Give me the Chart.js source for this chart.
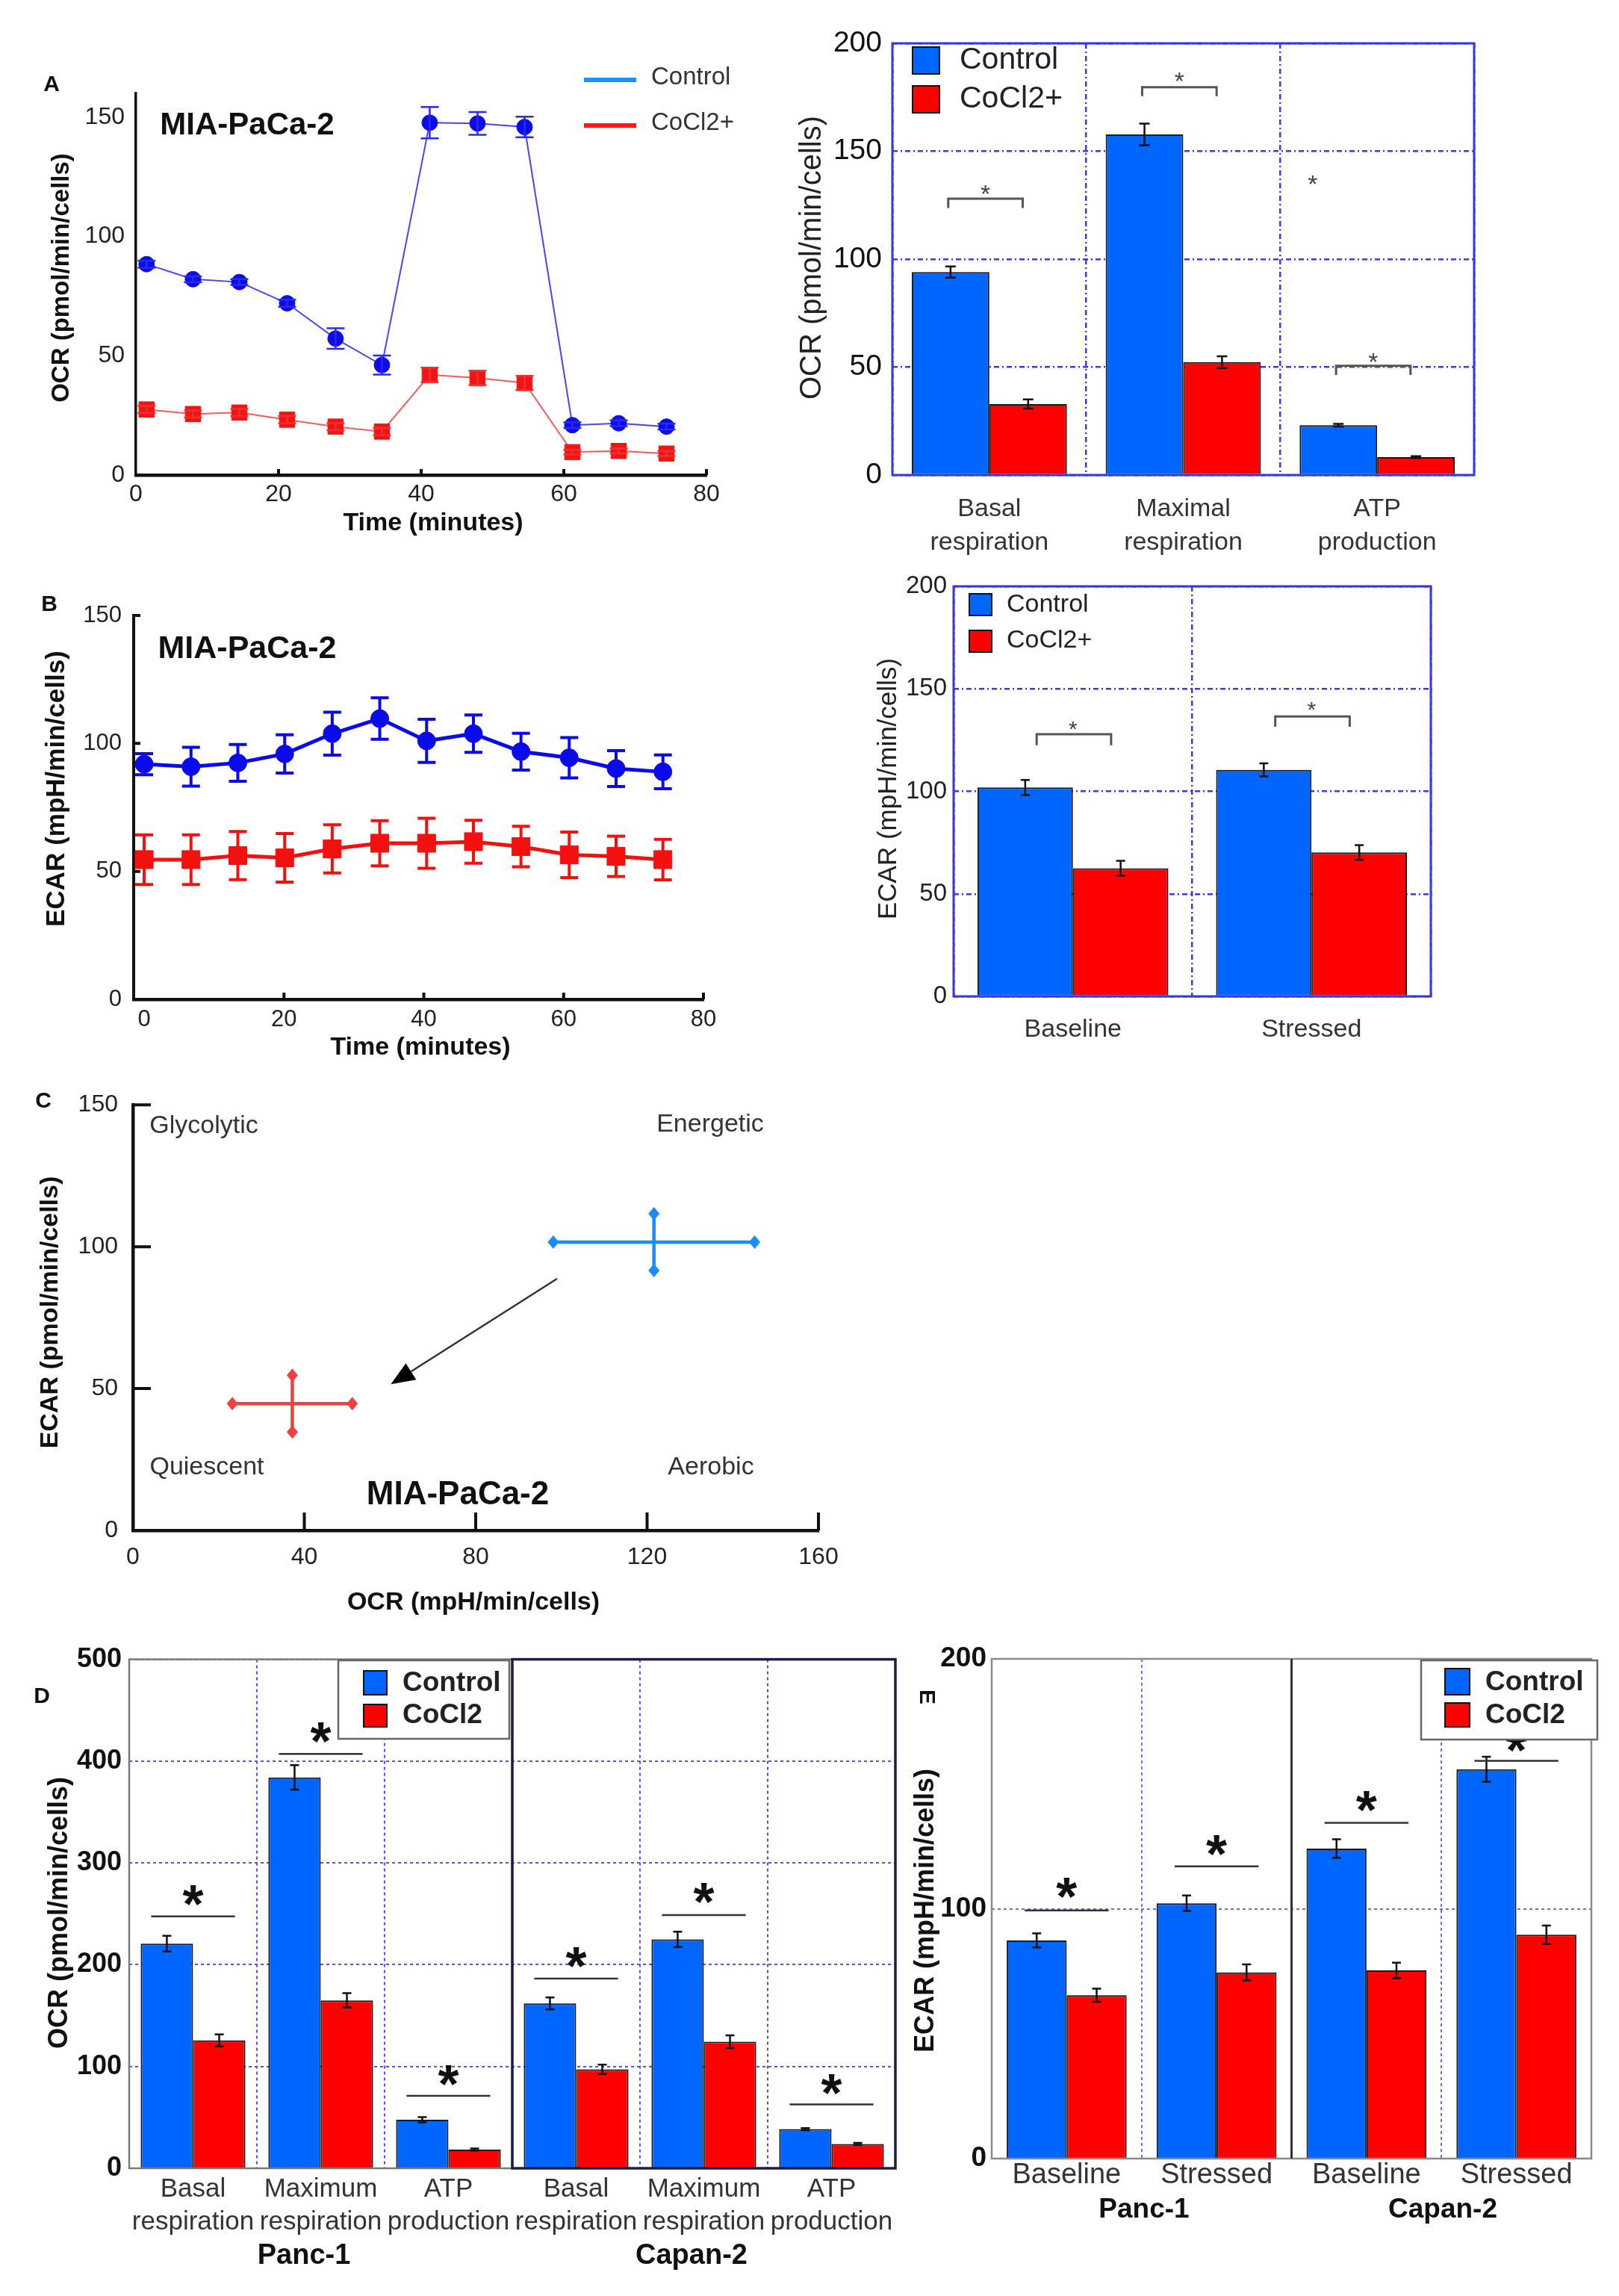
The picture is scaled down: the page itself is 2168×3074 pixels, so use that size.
<!DOCTYPE html>
<html>
<head>
<meta charset="utf-8">
<title>OCR / ECAR - MIA-PaCa-2, Panc-1, Capan-2</title>
<script src="https://cdn.jsdelivr.net/npm/chart.js@4.4.1/dist/chart.umd.min.js"></script>
<style>
  html, body { margin: 0; padding: 0; background: #fff; }
  body { position: relative; width: 2168px; height: 3074px; overflow: hidden; }
  canvas { position: absolute; }
</style>
</head>
<body>
<script>
// ---------- A (left): OCR time course, MIA-PaCa-2
const timeA = [1.5, 8, 14.5, 21.2, 28, 34.5, 41.2, 47.9, 54.5, 61.2, 67.7, 74.4];
const ocrControlA = [88.4, 82.1, 80.9, 72.0, 57.2, 46.1, 147.7, 147.4, 145.9, 20.9, 21.7, 20.3];
const ocrControlErrA = [1.5, 1.2, 1.2, 1.5, 4.3, 4.0, 6.6, 4.8, 4.3, 1.2, 1.2, 1.2];
const ocrCoclA = [27.5, 25.6, 26.2, 23.2, 20.3, 18.2, 42.0, 40.7, 38.6, 9.6, 10.1, 9.0];
const ocrCoclErrA = [1.5, 1.5, 1.5, 1.5, 1.5, 1.5, 3.0, 3.0, 3.0, 1.0, 1.0, 1.0];
const timeTicks = [0, 20, 40, 60, 80];
const ocrTicksA = [0, 50, 100, 150];

// ---------- A (right): OCR parameters
const ocrParams = [['Basal', 'respiration'], ['Maximal', 'respiration'], ['ATP', 'production']];
const ocrParamControl = [94.0, 157.8, 23.1];
const ocrParamControlErr = [2.6, 5.0, 0.6];
const ocrParamCocl = [32.9, 52.3, 8.3];
const ocrParamCoclErr = [2.1, 2.7, 0.4];
const ocrParamSig = [128.0, 179.7, 50.6];      // bracket bar
const ocrParamSigFoot = [123.7, 175.5, 46.4];  // bracket ends
const ocrParamStar = [132.8, 185.0, 55.2];
const ocrParamTicks = [0, 50, 100, 150, 200];

// ---------- B (left): ECAR time course
const timeB = [0, 6.7, 13.4, 20.1, 26.9, 33.7, 40.4, 47.1, 53.9, 60.8, 67.5, 74.2];
const ecarControlB = [91.9, 90.9, 92.4, 95.9, 103.8, 109.7, 101.0, 103.8, 96.8, 94.4, 90.2, 88.9];
const ecarControlErrB = [4.1, 7.6, 7.2, 7.5, 8.4, 8.1, 8.4, 7.3, 7.2, 7.9, 7.0, 6.6];
const ecarCoclB = [54.6, 54.6, 56.2, 55.3, 58.8, 61.0, 61.0, 61.6, 59.7, 56.5, 55.9, 54.6];
const ecarCoclErrB = [9.7, 9.7, 9.4, 9.5, 9.4, 8.8, 9.8, 8.4, 7.9, 8.9, 7.9, 7.9];
const ecarTicksB = [0, 50, 100, 150];

// ---------- B (right): ECAR baseline / stressed
const ecarStates = ['Baseline', 'Stressed'];
const ecarStateControl = [101.9, 110.5];
const ecarStateControlErr = [3.7, 3.2];
const ecarStateCocl = [62.5, 70.2];
const ecarStateCoclErr = [3.6, 3.6];
const ecarStateSig = [127.9, 136.5];
const ecarStateSigFoot = [122.5, 131.5];
const ecarStateStar = [132.9, 142.4];
const ecarStateTicks = [0, 50, 100, 150, 200];

// ---------- C: energy phenotype
const phenoGroups = ['Control', 'CoCl2+'];
const phenoOcr = [121.6, 37.2];
const phenoOcrErr = [23.5, 14.0];
const phenoEcar = [101.6, 44.7];
const phenoEcarErr = [10.0, 10.0];
const phenoShift = [[99, 88.7], [60.2, 51.5]];
const phenoXTicks = [0, 40, 80, 120, 160];
const phenoYTicks = [0, 50, 100, 150];

// ---------- D: OCR, Panc-1 and Capan-2
const cellLines = ['Panc-1', 'Capan-2'];
const ocrParamsD = [['Basal', 'respiration'], ['Maximum', 'respiration'], ['ATP', 'production'],
                    ['Basal', 'respiration'], ['Maximum', 'respiration'], ['ATP', 'production']];
const ocrControlD = [220.7, 384.0, 47.7, 162.0, 224.9, 38.5];
const ocrControlErrD = [7.7, 12.0, 2.5, 5.9, 7.5, 1.0];
const ocrCoclD = [125.6, 165.0, 18.4, 97.2, 124.4, 23.9];
const ocrCoclErrD = [5.9, 7.0, 1.0, 4.6, 6.3, 1.0];
const ocrSigD = [247.5, 407.0, 71.2, 186.3, 248.7, 62.8];
const ocrStarD = [271, 431, 93.8, 210, 273, 85.4];
const ocrTicksD = [0, 100, 200, 300, 400, 500];

// ---------- E: ECAR, Panc-1 and Capan-2
const ecarStatesE = ['Baseline', 'Stressed', 'Baseline', 'Stressed'];
const ecarControlE = [87.3, 102.2, 124.1, 155.8];
const ecarControlErrE = [2.8, 3.1, 3.7, 5.0];
const ecarCoclE = [65.4, 74.5, 75.3, 89.6];
const ecarCoclErrE = [2.6, 3.2, 3.1, 3.7];
const ecarSigE = [99.3, 117.0, 134.4, 159.2];
const ecarStarE = [109.6, 126.7, 144.2, 168.0];
const ecarTicksE = [0, 100, 200];

const FONT = "'Liberation Sans', Arial, Helvetica, sans-serif";
Chart.defaults.font.family = FONT;
Chart.defaults.color = '#222';

const BLUE = '#0066ff';
const RED = '#ff0000';

const fixedTicks = values => scale => { scale.ticks = values.map(v => ({ value: v })); };
const points = (xs, ys) => xs.map((x, i) => ({ x: x, y: ys[i] }));

// text at page coordinates (box = canvas origin on the page)
function label(ctx, box, s, x, y, size, o) {
  o = o || {};
  ctx.save();
  ctx.font = (o.bold ? 'bold ' : '') + size + 'px ' + FONT;
  ctx.fillStyle = o.color || '#222';
  ctx.textAlign = o.align || 'center';
  ctx.textBaseline = 'middle';
  ctx.translate(x - box[0], y - box[1]);
  if (o.rot) ctx.rotate(o.rot);
  ctx.fillText(s, 0, 0);
  ctx.restore();
}

function starAt(ctx, x, y, size, bold, color) {
  ctx.save();
  ctx.font = (bold ? 'bold ' : '') + size + 'px ' + FONT;
  ctx.fillStyle = color;
  ctx.textAlign = 'center';
  ctx.textBaseline = 'alphabetic';
  ctx.fillText('*', x, y + size * 0.56);
  ctx.restore();
}

// vertical error bars for every dataset carrying an "errors" array
const errorBars = {
  id: 'errorBars',
  afterDatasetsDraw(chart) {
    const ctx = chart.ctx, ys = chart.scales.y;
    chart.data.datasets.forEach((ds, i) => {
      if (!ds.errors) return;
      ctx.save();
      ctx.strokeStyle = ds.errColor || '#111';
      ctx.lineWidth = ds.errWidth || 2;
      chart.getDatasetMeta(i).data.forEach((el, j) => {
        const raw = ds.data[j];
        const v = typeof raw === 'object' ? raw.y : raw;
        const top = ys.getPixelForValue(v + ds.errors[j]);
        const bot = ys.getPixelForValue(v - ds.errors[j]);
        const c = ds.errCap || 6;
        ctx.beginPath();
        ctx.moveTo(el.x, top); ctx.lineTo(el.x, bot);
        ctx.moveTo(el.x - c, top); ctx.lineTo(el.x + c, top);
        ctx.moveTo(el.x - c, bot); ctx.lineTo(el.x + c, bot);
        ctx.stroke();
      });
      ctx.restore();
    });
  }
};

function innerTicks(chart, ctx, xs, ys, len, width) {
  const a = chart.chartArea;
  ctx.save();
  ctx.strokeStyle = '#111';
  ctx.lineWidth = width;
  ctx.beginPath();
  xs.forEach(v => { const p = chart.scales.x.getPixelForValue(v); ctx.moveTo(p, a.bottom); ctx.lineTo(p, a.bottom - len); });
  ys.forEach(v => { const p = chart.scales.y.getPixelForValue(v); ctx.moveTo(a.left, p); ctx.lineTo(a.left + len, p); });
  ctx.stroke();
  ctx.restore();
}

function sigMarks(chart, ctx, lineY, footY, starY, o) {
  const ys = chart.scales.y;
  const m0 = chart.getDatasetMeta(0).data, m1 = chart.getDatasetMeta(1).data;
  ctx.save();
  ctx.strokeStyle = o.color;
  ctx.lineWidth = o.width;
  lineY.forEach((v, i) => {
    const cx = (m0[i].x + m1[i].x) / 2, bw = m0[i].width;
    const x1 = cx + o.x1 * bw, x2 = cx + o.x2 * bw, py = ys.getPixelForValue(v);
    ctx.beginPath();
    if (footY) {
      const pf = ys.getPixelForValue(footY[i]);
      ctx.moveTo(x1, pf); ctx.lineTo(x1, py); ctx.lineTo(x2, py); ctx.lineTo(x2, pf);
    } else {
      ctx.moveTo(x1, py); ctx.lineTo(x2, py);
    }
    ctx.stroke();
    starAt(ctx, cx + o.sx * bw, ys.getPixelForValue(starY[i]), o.size, o.bold, o.starColor);
  });
  ctx.restore();
}

function frame(ctx, l, t, r, b, color, width) {
  ctx.save();
  ctx.strokeStyle = color;
  ctx.lineWidth = width;
  ctx.strokeRect(l, t, r - l, b - t);
  ctx.restore();
}

function boxLegend(chart, ctx, box, swatches, tx, tys, size, bold) {
  chart.data.datasets.forEach((ds, i) => {
    const s = swatches[i];
    ctx.save();
    ctx.fillStyle = ds.backgroundColor;
    ctx.fillRect(s[0] - box[0], s[1] - box[1], s[2], s[3]);
    ctx.strokeStyle = '#111';
    ctx.lineWidth = 2;
    ctx.strokeRect(s[0] - box[0], s[1] - box[1], s[2], s[3]);
    ctx.restore();
    label(ctx, box, ds.label, tx, tys[i], size, { align: 'left', bold: bold, color: '#222' });
  });
}

// box: canvas [left, top, width, height] on the page; area: plot [left, top, right, bottom]
function panel(box, area, config, draw) {
  const cv = document.createElement('canvas');
  cv.width = box[2];
  cv.height = box[3];
  Object.assign(cv.style, { left: box[0] + 'px', top: box[1] + 'px', width: box[2] + 'px', height: box[3] + 'px' });
  document.body.appendChild(cv);
  const opt = config.options;
  opt.responsive = false;
  opt.animation = false;
  opt.devicePixelRatio = 1;
  opt.layout = { padding: { left: 0, bottom: 0, top: area[1] - box[1], right: box[0] + box[2] - area[2] } };
  opt.plugins = { legend: { display: false }, tooltip: { enabled: false } };
  opt.scales.x.afterFit = s => { s.height = box[1] + box[3] - area[3]; };
  opt.scales.y.afterFit = s => { s.width = area[0] - box[0]; };
  config.plugins = [errorBars, { id: 'fig', afterDraw: chart => draw(chart, chart.ctx, box) }];
  return new Chart(cv, config);
}

const blackAxis = w => ({ display: true, color: '#111', width: w });
const tickFont = (size, bold) => ({ size: size, weight: bold ? 'bold' : 'normal' });

// ================= A (left)
panel([0, 40, 1050, 700], [182, 125, 946, 636], {
  type: 'line',
  data: {
    datasets: [
      { label: 'Control', data: points(timeA, ocrControlA), errors: ocrControlErrA,
        borderColor: '#4646ff', borderWidth: 2, pointStyle: 'circle', pointRadius: 10.5,
        pointBackgroundColor: '#0c0ce8', pointBorderColor: '#0c0ce8', pointBorderWidth: 1,
        errColor: '#2a2af0', errWidth: 2.5, errCap: 12 },
      { label: 'CoCl2+', data: points(timeA, ocrCoclA), errors: ocrCoclErrA,
        borderColor: '#ff5a5a', borderWidth: 2, pointStyle: 'rect', pointRadius: 14.5,
        pointBackgroundColor: '#f01414', pointBorderColor: '#f01414', pointBorderWidth: 1,
        errColor: '#f03030', errWidth: 2.5, errCap: 12 }
    ]
  },
  options: {
    scales: {
      x: { type: 'linear', min: 0, max: 80, afterBuildTicks: fixedTicks(timeTicks),
           grid: { display: false, drawTicks: false }, border: blackAxis(4.5),
           ticks: { font: tickFont(32), padding: 7, color: '#222', maxRotation: 0 } },
      y: { min: 0, max: 160, afterBuildTicks: fixedTicks(ocrTicksA),
           grid: { display: false, drawTicks: false }, border: blackAxis(3.5),
           ticks: { font: tickFont(32), padding: 15, color: '#222' } }
    }
  }
}, (chart, ctx, box) => {
  innerTicks(chart, ctx, timeTicks.slice(1), [], 8, 4);
  label(ctx, box, 'A', 69, 114, 30, { bold: true, color: '#111' });
  label(ctx, box, 'MIA-PaCa-2', 331, 168, 42, { bold: true, color: '#111' });
  label(ctx, box, 'OCR (pmol/min/cells)', 83, 372, 33, { bold: true, rot: -Math.PI / 2, color: '#111' });
  label(ctx, box, 'Time (minutes)', 580, 701, 34, { bold: true, color: '#111' });
  const legendColors = ['#1e8fff', '#ff1a1a'];
  const legendY = [107, 168];
  chart.data.datasets.forEach((ds, i) => {
    ctx.save();
    ctx.strokeStyle = legendColors[i];
    ctx.lineWidth = 6;
    ctx.beginPath();
    ctx.moveTo(782 - box[0], legendY[i] - box[1]);
    ctx.lineTo(852 - box[0], legendY[i] - box[1]);
    ctx.stroke();
    ctx.restore();
    label(ctx, box, ds.label, 872, legendY[i] - 3, 33, { align: 'left', color: '#333' });
  });
});

// ================= A (right)
const blueGrid = { color: '#3b3bea', lineWidth: 2.5, drawTicks: false };
const blueDash = { display: false, dash: [7, 4, 2, 4] };
panel([1040, 10, 1100, 760], [1195, 58, 1974, 636], {
  type: 'bar',
  data: {
    labels: ocrParams,
    datasets: [
      { label: 'Control', data: ocrParamControl, errors: ocrParamControlErr, backgroundColor: BLUE,
        borderColor: '#1a1a1a', borderWidth: 2, categoryPercentage: 0.8, barPercentage: 1,
        errColor: '#111', errWidth: 2.5, errCap: 7 },
      { label: 'CoCl2+', data: ocrParamCocl, errors: ocrParamCoclErr, backgroundColor: RED,
        borderColor: '#1a1a1a', borderWidth: 2, categoryPercentage: 0.8, barPercentage: 1,
        errColor: '#111', errWidth: 2.5, errCap: 7 }
    ]
  },
  options: {
    scales: {
      x: { grid: blueGrid, border: blueDash,
           ticks: { font: { size: 34, lineHeight: 1.3 }, padding: 24, color: '#333', maxRotation: 0, autoSkip: false } },
      y: { min: 0, max: 200, afterBuildTicks: fixedTicks(ocrParamTicks), grid: blueGrid, border: blueDash,
           ticks: { font: tickFont(39), padding: 14, color: '#111' } }
    }
  }
}, (chart, ctx, box) => {
  const a = chart.chartArea;
  frame(ctx, a.left, a.top, a.right, a.bottom, '#3636e6', 3);
  sigMarks(chart, ctx, ocrParamSig, ocrParamSigFoot, ocrParamStar,
    { color: '#555', width: 3, x1: -0.53, x2: 0.43, sx: -0.05, size: 34, bold: false, starColor: '#444' });
  // stray asterisk printed in the ATP panel of the original
  const m0 = chart.getDatasetMeta(0).data, m1 = chart.getDatasetMeta(1).data;
  starAt(ctx, (m0[2].x + m1[2].x) / 2 - 0.83 * m0[2].width, chart.scales.y.getPixelForValue(137.5), 34, false, '#444');
  boxLegend(chart, ctx, box, [[1222, 63, 36, 36], [1222, 115, 36, 36]], 1285, [81, 133], 41, false);
  label(ctx, box, 'OCR (pmol/min/cells)', 1088, 345, 40, { rot: -Math.PI / 2, color: '#222' });
});

// ================= B (left)
panel([0, 770, 1050, 680], [179, 824, 942, 1338], {
  type: 'line',
  data: {
    datasets: [
      { label: 'Control', data: points(timeB, ecarControlB), errors: ecarControlErrB,
        borderColor: '#0a0aea', borderWidth: 5, pointStyle: 'circle', pointRadius: 12,
        pointBackgroundColor: '#0a0aea', pointBorderColor: '#0a0aea', pointBorderWidth: 1,
        errColor: '#0a0aea', errWidth: 4, errCap: 12 },
      { label: 'CoCl2+', data: points(timeB, ecarCoclB), errors: ecarCoclErrB,
        borderColor: '#f51010', borderWidth: 5, pointStyle: 'rect', pointRadius: 17,
        pointBackgroundColor: '#f51010', pointBorderColor: '#f51010', pointBorderWidth: 1,
        errColor: '#f51010', errWidth: 4, errCap: 12 }
    ]
  },
  options: {
    scales: {
      x: { type: 'linear', min: -1.5, max: 80, afterBuildTicks: fixedTicks(timeTicks),
           grid: { display: false, drawTicks: false }, border: blackAxis(4.5),
           ticks: { font: tickFont(31), padding: 9, color: '#222', maxRotation: 0 } },
      y: { min: 0, max: 150, afterBuildTicks: fixedTicks(ecarTicksB),
           grid: { display: false, drawTicks: false }, border: blackAxis(4),
           ticks: { font: tickFont(31), padding: 16, color: '#222' } }
    }
  }
}, (chart, ctx, box) => {
  innerTicks(chart, ctx, timeTicks.slice(1), ecarTicksB.slice(1), 9, 4);
  label(ctx, box, 'B', 66, 810, 30, { bold: true, color: '#111' });
  label(ctx, box, 'MIA-PaCa-2', 331, 869, 43, { bold: true, color: '#111' });
  label(ctx, box, 'ECAR (mpH/min/cells)', 76, 1056, 35, { bold: true, rot: -Math.PI / 2, color: '#111' });
  label(ctx, box, 'Time (minutes)', 563, 1403, 34, { bold: true, color: '#111' });
});

// ================= B (right)
panel([1120, 755, 1000, 680], [1277, 785, 1916, 1334], {
  type: 'bar',
  data: {
    labels: ecarStates,
    datasets: [
      { label: 'Control', data: ecarStateControl, errors: ecarStateControlErr, backgroundColor: BLUE,
        borderColor: '#1a1a1a', borderWidth: 2, categoryPercentage: 0.8, barPercentage: 1,
        errColor: '#111', errWidth: 2.5, errCap: 6 },
      { label: 'CoCl2+', data: ecarStateCocl, errors: ecarStateCoclErr, backgroundColor: RED,
        borderColor: '#1a1a1a', borderWidth: 2, categoryPercentage: 0.8, barPercentage: 1,
        errColor: '#111', errWidth: 2.5, errCap: 6 }
    ]
  },
  options: {
    scales: {
      x: { grid: blueGrid, border: blueDash,
           ticks: { font: { size: 34 }, padding: 24, color: '#333', maxRotation: 0, autoSkip: false } },
      y: { min: 0, max: 200, afterBuildTicks: fixedTicks(ecarStateTicks), grid: blueGrid, border: blueDash,
           ticks: { font: tickFont(33), padding: 9, color: '#222' } }
    }
  }
}, (chart, ctx, box) => {
  const a = chart.chartArea;
  frame(ctx, a.left, a.top, a.right, a.bottom, '#3636e6', 3);
  sigMarks(chart, ctx, ecarStateSig, ecarStateSigFoot, ecarStateStar,
    { color: '#555', width: 3, x1: -0.38, x2: 0.4, sx: 0.0, size: 30, bold: false, starColor: '#444' });
  boxLegend(chart, ctx, box, [[1298, 795, 30, 29], [1298, 844, 30, 29]], 1348, [810, 858], 34, false);
  label(ctx, box, 'ECAR (mpH/min/cells)', 1190, 1056, 35, { rot: -Math.PI / 2, color: '#222' });
});

// ================= C
const phenoColors = ['#1a8cff', '#f04040'];
panel([0, 1440, 1200, 740], [178, 1472, 1096, 2049], {
  type: 'scatter',
  data: {
    datasets: phenoGroups.map((g, i) => ({
      label: g, data: [{ x: phenoOcr[i], y: phenoEcar[i] }], pointRadius: 0,
      xErr: phenoOcrErr[i], yErr: phenoEcarErr[i], crossColor: phenoColors[i]
    }))
  },
  options: {
    scales: {
      x: { type: 'linear', min: 0, max: 160, afterBuildTicks: fixedTicks(phenoXTicks),
           grid: { display: false, drawTicks: false }, border: blackAxis(4.5),
           ticks: { font: tickFont(32), padding: 17, color: '#222', maxRotation: 0 } },
      y: { min: 0, max: 150, afterBuildTicks: fixedTicks(phenoYTicks),
           grid: { display: false, drawTicks: false }, border: blackAxis(4.5),
           ticks: { font: tickFont(32), padding: 20, color: '#222' } }
    }
  }
}, (chart, ctx, box) => {
  const xs = chart.scales.x, ys = chart.scales.y;
  innerTicks(chart, ctx, phenoXTicks.slice(1), phenoYTicks.slice(1), 24, 4);
  const diamond = (x, y) => {
    ctx.beginPath();
    ctx.moveTo(x, y - 9); ctx.lineTo(x + 7.5, y); ctx.lineTo(x, y + 9); ctx.lineTo(x - 7.5, y);
    ctx.closePath(); ctx.fill();
  };
  chart.data.datasets.forEach(ds => {
    const p = ds.data[0];
    const xl = xs.getPixelForValue(p.x - ds.xErr), xr = xs.getPixelForValue(p.x + ds.xErr);
    const yt = ys.getPixelForValue(p.y + ds.yErr), yb = ys.getPixelForValue(p.y - ds.yErr);
    const cx = xs.getPixelForValue(p.x), cy = ys.getPixelForValue(p.y);
    ctx.save();
    ctx.strokeStyle = ds.crossColor;
    ctx.fillStyle = ds.crossColor;
    ctx.lineWidth = 4.5;
    ctx.beginPath();
    ctx.moveTo(xl, cy); ctx.lineTo(xr, cy);
    ctx.moveTo(cx, yt); ctx.lineTo(cx, yb);
    ctx.stroke();
    diamond(xl, cy); diamond(xr, cy); diamond(cx, yt); diamond(cx, yb);
    ctx.restore();
  });
  // shift arrow
  const x1 = xs.getPixelForValue(phenoShift[0][0]), y1 = ys.getPixelForValue(phenoShift[0][1]);
  const x2 = xs.getPixelForValue(phenoShift[1][0]), y2 = ys.getPixelForValue(phenoShift[1][1]);
  const ang = Math.atan2(y2 - y1, x2 - x1), hl = 32, hw = 13;
  const bx = x2 - hl * Math.cos(ang), by = y2 - hl * Math.sin(ang);
  ctx.save();
  ctx.strokeStyle = '#333';
  ctx.lineWidth = 2.5;
  ctx.beginPath(); ctx.moveTo(x1, y1); ctx.lineTo(bx, by); ctx.stroke();
  ctx.fillStyle = '#000';
  ctx.beginPath();
  ctx.moveTo(x2, y2);
  ctx.lineTo(bx + hw * Math.sin(ang), by - hw * Math.cos(ang));
  ctx.lineTo(bx - hw * Math.sin(ang), by + hw * Math.cos(ang));
  ctx.closePath(); ctx.fill();
  ctx.restore();

  label(ctx, box, 'C', 58, 1475, 30, { bold: true, color: '#111' });
  label(ctx, box, 'Glycolytic', 273, 1508, 34, { color: '#333' });
  label(ctx, box, 'Energetic', 951, 1506, 34, { color: '#333' });
  label(ctx, box, 'Quiescent', 277, 1965, 34, { color: '#333' });
  label(ctx, box, 'Aerobic', 952, 1965, 34, { color: '#333' });
  label(ctx, box, 'MIA-PaCa-2', 613, 2002, 44, { bold: true, color: '#111' });
  label(ctx, box, 'ECAR (pmol/min/cells)', 68, 1757, 34, { bold: true, rot: -Math.PI / 2, color: '#111' });
  label(ctx, box, 'OCR (mpH/min/cells)', 634, 2146, 34, { bold: true, color: '#111' });
});

// ================= D
const dotGrid = { color: '#5252ee', lineWidth: 2, drawTicks: false };
const dotDash = { display: false, dash: [4, 4] };
panel([0, 2190, 1220, 884], [173, 2219, 1199, 2903], {
  type: 'bar',
  data: {
    labels: ocrParamsD,
    datasets: [
      { label: 'Control', data: ocrControlD, errors: ocrControlErrD, backgroundColor: BLUE,
        borderColor: '#1a1a1a', borderWidth: 2, categoryPercentage: 0.82, barPercentage: 1,
        errColor: '#111', errWidth: 2.5, errCap: 6 },
      { label: 'CoCl2', data: ocrCoclD, errors: ocrCoclErrD, backgroundColor: RED,
        borderColor: '#1a1a1a', borderWidth: 2, categoryPercentage: 0.82, barPercentage: 1,
        errColor: '#111', errWidth: 2.5, errCap: 6 }
    ]
  },
  options: {
    scales: {
      x: { grid: dotGrid, border: dotDash,
           ticks: { font: { size: 35, lineHeight: 1.257 }, padding: 6, color: '#333', maxRotation: 0, autoSkip: false } },
      y: { min: 0, max: 500, afterBuildTicks: fixedTicks(ocrTicksD), grid: dotGrid, border: dotDash,
           ticks: { font: tickFont(36, true), padding: 10, color: '#111' } }
    }
  }
}, (chart, ctx, box) => {
  const a = chart.chartArea, xs = chart.scales.x;
  const mid = (xs.getPixelForValue(2) + xs.getPixelForValue(3)) / 2;
  frame(ctx, a.left, a.top, mid, a.bottom, '#7a7a7a', 2.5);
  frame(ctx, mid, a.top, a.right, a.bottom, '#1c1c48', 3.5);
  sigMarks(chart, ctx, ocrSigD, null, ocrStarD,
    { color: '#333', width: 2.5, x1: -0.8, x2: 0.8, sx: 0, size: 72, bold: true, starColor: '#111' });
  ctx.save();
  ctx.fillStyle = '#fff';
  ctx.fillRect(453 - box[0], 2223 - box[1], 229, 105);
  ctx.strokeStyle = '#666';
  ctx.lineWidth = 2.5;
  ctx.strokeRect(453 - box[0], 2223 - box[1], 229, 105);
  ctx.restore();
  boxLegend(chart, ctx, box, [[487, 2237, 31, 32], [487, 2282, 31, 30]], 539, [2254, 2297], 37, true);
  label(ctx, box, 'D', 56, 2272, 30, { bold: true, color: '#111' });
  label(ctx, box, 'OCR (pmol/min/cells)', 80, 2561, 36, { bold: true, rot: -Math.PI / 2, color: '#111' });
  label(ctx, box, cellLines[0], 407, 3021, 38, { bold: true, color: '#111' });
  label(ctx, box, cellLines[1], 926, 3021, 38, { bold: true, color: '#111' });
});

// ================= E
const dotGridE = { color: '#6a6aff', lineWidth: 2, drawTicks: false };
panel([1200, 2190, 968, 884], [1328, 2221, 2131, 2890], {
  type: 'bar',
  data: {
    labels: ecarStatesE,
    datasets: [
      { label: 'Control', data: ecarControlE, errors: ecarControlErrE, backgroundColor: BLUE,
        borderColor: '#1a1a1a', borderWidth: 2, categoryPercentage: 0.8, barPercentage: 1,
        errColor: '#111', errWidth: 2.5, errCap: 6 },
      { label: 'CoCl2', data: ecarCoclE, errors: ecarCoclErrE, backgroundColor: RED,
        borderColor: '#1a1a1a', borderWidth: 2, categoryPercentage: 0.8, barPercentage: 1,
        errColor: '#111', errWidth: 2.5, errCap: 6 }
    ]
  },
  options: {
    scales: {
      x: { grid: dotGridE, border: dotDash,
           ticks: { font: { size: 38 }, padding: 0, color: '#333', maxRotation: 0, autoSkip: false } },
      y: { min: 0, max: 200, afterBuildTicks: fixedTicks(ecarTicksE), grid: dotGridE, border: dotDash,
           ticks: { font: tickFont(37, true), padding: 7, color: '#111' } }
    }
  }
}, (chart, ctx, box) => {
  const a = chart.chartArea, xs = chart.scales.x;
  const mid = (xs.getPixelForValue(1) + xs.getPixelForValue(2)) / 2;
  frame(ctx, a.left, a.top, a.right, a.bottom, '#8a8a8a', 2.5);
  ctx.save();
  ctx.strokeStyle = '#333';
  ctx.lineWidth = 3;
  ctx.beginPath(); ctx.moveTo(mid, a.top); ctx.lineTo(mid, a.bottom); ctx.stroke();
  ctx.restore();
  sigMarks(chart, ctx, ecarSigE, null, ecarStarE,
    { color: '#333', width: 2.5, x1: -0.7, x2: 0.7, sx: 0, size: 72, bold: true, starColor: '#111' });
  ctx.save();
  ctx.fillStyle = '#fff';
  ctx.fillRect(1903 - box[0], 2223 - box[1], 236, 106);
  ctx.strokeStyle = '#666';
  ctx.lineWidth = 2.5;
  ctx.strokeRect(1903 - box[0], 2223 - box[1], 236, 106);
  ctx.restore();
  boxLegend(chart, ctx, box, [[1935, 2234, 33, 35], [1935, 2280, 33, 32]], 1989, [2253, 2297], 37, true);
  label(ctx, box, 'E', 1240, 2272, 30, { bold: true, rot: Math.PI / 2, color: '#111' });
  label(ctx, box, 'ECAR (mpH/min/cells)', 1240, 2558, 36, { bold: true, rot: -Math.PI / 2, color: '#111' });
  label(ctx, box, cellLines[0], 1532, 2959, 37, { bold: true, color: '#111' });
  label(ctx, box, cellLines[1], 1932, 2959, 37, { bold: true, color: '#111' });
});
</script>
</body>
</html>
